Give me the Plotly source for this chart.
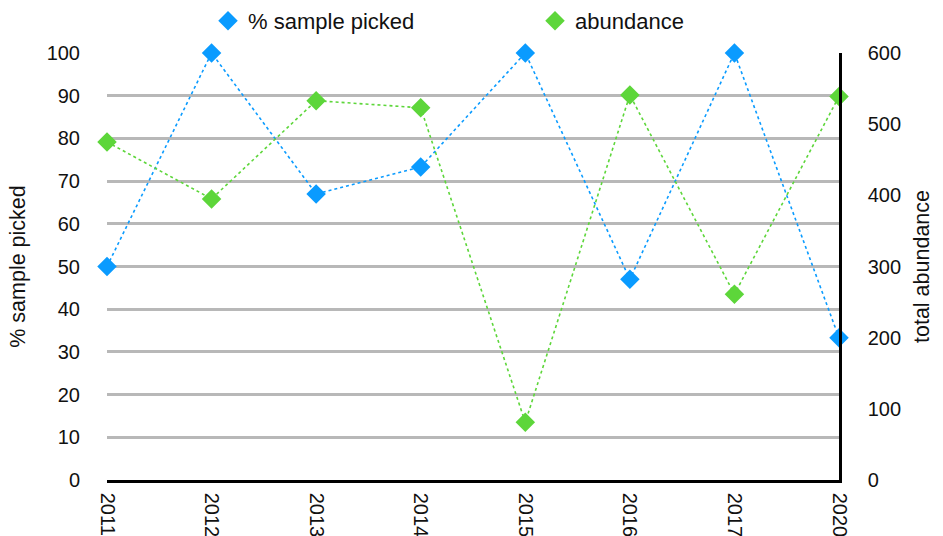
import plotly.graph_objects as go

years = ["2011", "2012", "2013", "2014", "2015", "2016", "2017", "2020"]
pct_picked = [50, 100, 67, 73.3, 100, 47, 100, 33.3]
abundance = [475, 395, 533, 523, 81, 541, 261, 539]

blue = "#0a9bff"
green = "#5dd63a"
font_family = "Liberation Sans, Arial, Helvetica, sans-serif"

fig = go.Figure()
# dotted connecting lines (no legend entries)
fig.add_trace(go.Scatter(
    x=years, y=pct_picked, mode="lines", showlegend=False, hoverinfo="skip",
    line=dict(color=blue, width=1.6, dash="dot"), cliponaxis=False, yaxis="y"))
fig.add_trace(go.Scatter(
    x=years, y=abundance, mode="lines", showlegend=False, hoverinfo="skip",
    line=dict(color=green, width=1.6, dash="dot"), cliponaxis=False, yaxis="y2"))
# diamond markers (legend entries)
fig.add_trace(go.Scatter(
    x=years, y=pct_picked, name="% sample picked", mode="markers",
    marker=dict(symbol="diamond", size=15, color=blue),
    cliponaxis=False, yaxis="y"))
fig.add_trace(go.Scatter(
    x=years, y=abundance, name="abundance", mode="markers",
    marker=dict(symbol="diamond", size=15, color=green),
    cliponaxis=False, yaxis="y2"))

fig.update_layout(
    width=943, height=536,
    margin=dict(l=107, r=104, t=53, b=56, autoexpand=False),
    paper_bgcolor="white", plot_bgcolor="white",
    font=dict(family=font_family, size=20, color="#111111"),
    showlegend=True,
    legend=dict(orientation="h", x=0.2206, xanchor="left", y=1.0, yanchor="top",
                xref="container", yref="container",
                entrywidth=282, entrywidthmode="pixels",
                font=dict(size=22), itemsizing="trace",
                bgcolor="rgba(0,0,0,0)"),
    xaxis=dict(type="category", range=[0, 7], showgrid=False, showline=True,
               linecolor="black", linewidth=2.5, tickangle=90, ticks="",
               tickfont=dict(size=20),
               ticklabelstandoff=6, zeroline=False, automargin=False),
    yaxis=dict(range=[0, 100], dtick=10, showgrid=True, gridcolor="#b8b8b8",
               gridwidth=2.5, zeroline=False, showline=False, ticks="",
               tickfont=dict(size=20),
               ticklabelstandoff=26, automargin=False,
               title=dict(text="% sample picked", standoff=15, font=dict(size=21.5))),
    yaxis2=dict(range=[0, 600], dtick=100, overlaying="y", side="right",
                showgrid=False, zeroline=False, showline=True, linecolor="black",
                linewidth=2.5, ticks="", ticklabelstandoff=22, automargin=False,
                tickfont=dict(size=20),
                title=dict(text="total abundance", standoff=14, font=dict(size=21.5))),
)

fig.write_html("out.html")
